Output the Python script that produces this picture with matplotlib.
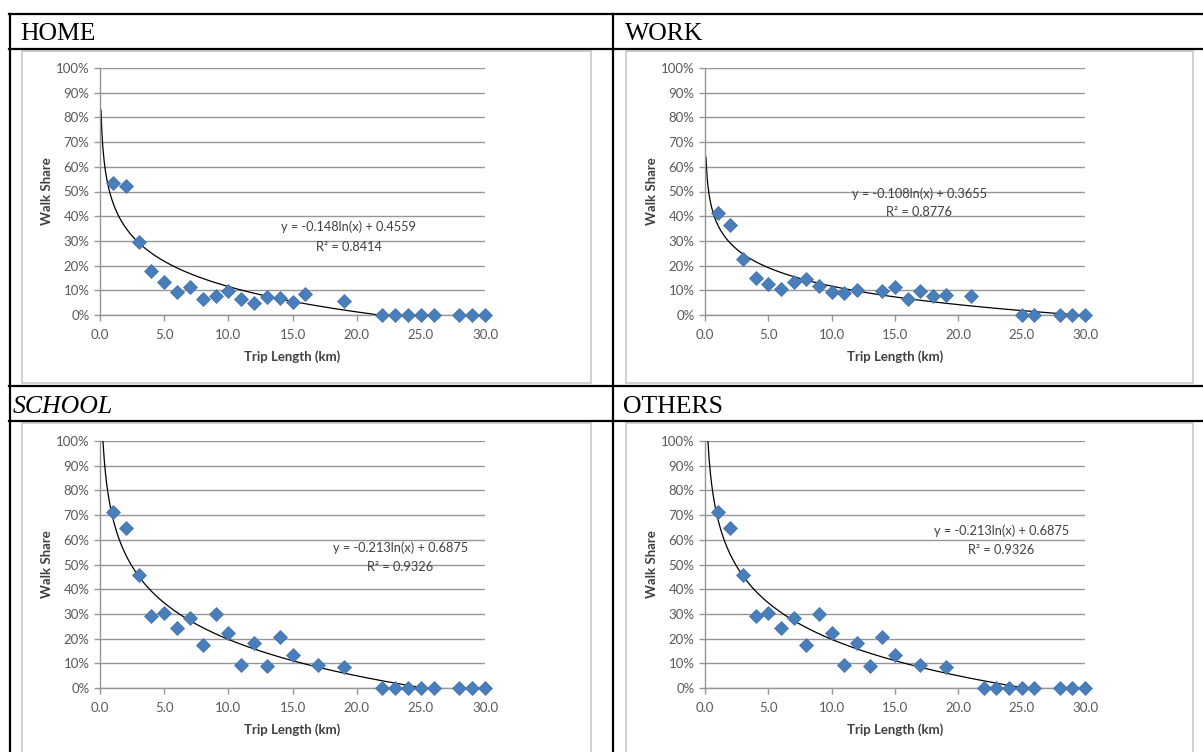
import numpy as np
import matplotlib
matplotlib.use('Agg')
import matplotlib.pyplot as plt
from matplotlib.lines import Line2D
from matplotlib.patches import Rectangle
from matplotlib.ticker import FuncFormatter, MultipleLocator

# trip length (km) and walk share (fraction)
home_x = [1, 2, 3, 4, 5, 6, 7, 8, 9, 10, 11, 12, 13, 14, 15, 16, 19, 22, 23, 24, 25, 26, 28, 29, 30]
home_y = [0.534, 0.523, 0.297, 0.180, 0.135, 0.095, 0.115, 0.065, 0.078, 0.097, 0.065, 0.050,
          0.072, 0.070, 0.051, 0.084, 0.058, 0, 0, 0, 0, 0, 0, 0, 0]

work_x = [1, 2, 3, 4, 5, 6, 7, 8, 9, 10, 11, 12, 14, 15, 16, 17, 18, 19, 21, 25, 26, 28, 29, 30]
work_y = [0.412, 0.364, 0.226, 0.151, 0.124, 0.104, 0.135, 0.145, 0.119, 0.095, 0.088, 0.101,
          0.099, 0.112, 0.065, 0.099, 0.077, 0.081, 0.078, 0, 0, 0, 0, 0]

school_x = [1, 2, 3, 4, 5, 6, 7, 8, 9, 10, 11, 12, 13, 14, 15, 17, 19, 22, 23, 24, 25, 26, 28, 29, 30]
school_y = [0.714, 0.646, 0.457, 0.292, 0.305, 0.243, 0.284, 0.176, 0.301, 0.223, 0.092, 0.182,
            0.089, 0.207, 0.132, 0.092, 0.085, 0, 0, 0, 0, 0, 0, 0, 0]

others_x = school_x
others_y = school_y

# log trend lines: y = a ln(x) + b, R²
fits = {
    'HOME': (-0.148, 0.4559, 0.8414),
    'WORK': (-0.108, 0.3655, 0.8776),
    'SCHOOL': (-0.213, 0.6875, 0.9326),
    'OTHERS': (-0.213, 0.6875, 0.9326),
}

W, H = 1203, 752
fig = plt.figure(figsize=(W / 100, H / 100), dpi=100)
fig.patch.set_facecolor('white')

def fx(px):
    return px / W

def fy(py):
    return 1 - py / H

# table grid
lw_tab = 1.6
for y in [14, 49, 386, 421]:
    fig.add_artist(Line2D([fx(9), 1], [fy(y), fy(y)], color='black', lw=lw_tab))
for x in [10, 613]:
    fig.add_artist(Line2D([fx(x), fx(x)], [fy(14), 0], color='black', lw=lw_tab))

# header texts
hdr = dict(family='Liberation Serif', fontsize=18.5, color='black', va='baseline')
fig.text(fx(20), fy(40), 'HOME', **hdr)
fig.text(fx(625), fy(40), 'WORK', **hdr)
fig.text(fx(13), fy(413), 'SCHOOL', style='italic', **hdr)
fig.text(fx(623), fy(413), 'OTHERS', **hdr)

# chart area frames (pixel boxes: left, top, right, bottom)
frames = [(22, 51, 591, 383), (626, 51, 1193, 383), (22, 423, 591, 790), (626, 423, 1193, 790)]
for l, t, r, b in frames:
    fig.add_artist(Rectangle((fx(l), fy(b)), fx(r) - fx(l), fy(t) - fy(b),
                             fill=False, edgecolor='#C8C8C8', lw=1.2))

panels = [
    ('HOME', home_x, home_y, (100, 68, 485, 315), (19.4, 0.358, 0.277)),
    ('WORK', work_x, work_y, (705, 68, 1085, 315), (16.9, 0.493, 0.416)),
    ('SCHOOL', school_x, school_y, (100, 441, 485, 688), (23.4, 0.569, 0.490)),
    ('OTHERS', others_x, others_y, (705, 441, 1085, 688), (23.4, 0.636, 0.560)),
]

font = 'Lato'
grey = '#595959'
for name, xs, ys, (l, t, r, b), (ex, ey1, ey2) in panels:
    ax = fig.add_axes([fx(l), fy(b), fx(r) - fx(l), fy(t) - fy(b)])
    ax.set_xlim(0, 30)
    ax.set_ylim(0, 1)
    ax.yaxis.set_major_locator(MultipleLocator(0.1))
    ax.xaxis.set_major_locator(MultipleLocator(5))
    ax.yaxis.set_major_formatter(FuncFormatter(lambda v, p: f'{v * 100:.0f}%'))
    ax.xaxis.set_major_formatter(FuncFormatter(lambda v, p: f'{v:.1f}'))
    ax.grid(axis='y', color='#969696', lw=1.0)
    ax.set_axisbelow(True)
    for s in ['top', 'right']:
        ax.spines[s].set_visible(False)
    for s in ['left', 'bottom']:
        ax.spines[s].set_color('#969696')
        ax.spines[s].set_linewidth(1.0)
    ax.tick_params(colors='#969696', labelcolor=grey, length=4, width=1, labelsize=9.5)
    ax.tick_params(axis='x', pad=6)
    for lab in ax.get_xticklabels() + ax.get_yticklabels():
        lab.set_family(font)
    ax.set_ylabel('Walk Share', family=font, fontweight='bold', fontsize=9.5, color='#404040', labelpad=2)
    ax.set_xlabel('Trip Length (km)', family=font, fontweight='bold', fontsize=9.5, color='#404040', labelpad=7)

    a, c, r2 = fits[name]
    xx = np.linspace(0.08, 30, 600)
    ax.plot(xx, a * np.log(xx) + c, color='black', lw=0.9, zorder=2)
    ax.plot(xs, ys, 'D', color='#4A7EBB', markersize=7, markeredgecolor='#3F6FA8',
            markeredgewidth=0.5, zorder=3, clip_on=False)

    ax.text(ex, ey1, f'y = {a:.3f}ln(x) + {c:.4f}', family=font, fontsize=9.2,
            color='#404040', ha='center', va='center')
    ax.text(ex, ey2, f'R² = {r2:.4f}', family=font, fontsize=9.2,
            color='#404040', ha='center', va='center')

fig.savefig('out.png', dpi=100)
